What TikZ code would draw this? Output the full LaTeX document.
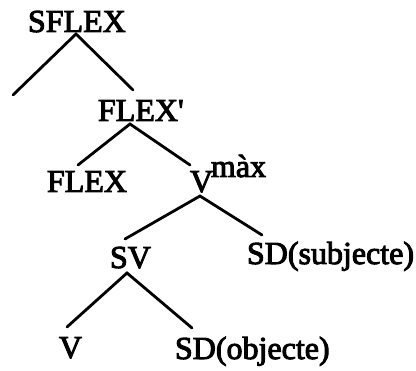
\documentclass[tikz,border=0pt]{standalone}
\usepackage{fontspec}
\setmainfont[FakeBold=3]{Liberation Serif}
\begin{document}
\begin{tikzpicture}[x=1pt,y=-1pt,
  lbl/.style={anchor=base west,inner sep=0pt,outer sep=0pt,font=\fontsize{32}{36}\selectfont},
  branch/.style={line width=2.8pt,line cap=round}]
\useasboundingbox (0,0) rectangle (416,371);

% category labels
\node[lbl] (sflex) at (28,32) {SFLEX};
\node[lbl] (flexbar) at (98,121) {FLEX\textquotesingle};
\node[lbl] (flex) at (47,192) {FLEX};
\node[lbl] (vmax) at (190,192) {V};
\node[lbl] (max) at (211,177) {màx};
\node[lbl] (sv) at (110,268) {SV};
\node[lbl] (sdsubj) at (247,264) {SD(subjecte)};
\node[lbl] (v) at (59,358) {V};
\node[lbl] (sdobj) at (175,359) {SD(objecte)};

% branching points and branch ends
\coordinate (sflexfoot) at (76,34);
\coordinate (sflexleft) at (13,95);
\coordinate (flexbartop) at (133,90);
\coordinate (flexbarfoot) at (130,124);
\coordinate (flextop) at (78,165);
\coordinate (vmaxtop) at (190,165);
\coordinate (vmaxfoot) at (200,196);
\coordinate (svtop) at (125,239);
\coordinate (sdsubjtop) at (262,235);
\coordinate (svfoot) at (127,273);
\coordinate (vtop) at (67,327);
\coordinate (sdobjtop) at (192,328);

% tree branches
\draw[branch] (sflexleft) -- (sflexfoot) -- (flexbartop);
\draw[branch] (flextop) -- (flexbarfoot) -- (vmaxtop);
\draw[branch] (svtop) -- (vmaxfoot) -- (sdsubjtop);
\draw[branch] (vtop) -- (svfoot) -- (sdobjtop);
\end{tikzpicture}
\end{document}
